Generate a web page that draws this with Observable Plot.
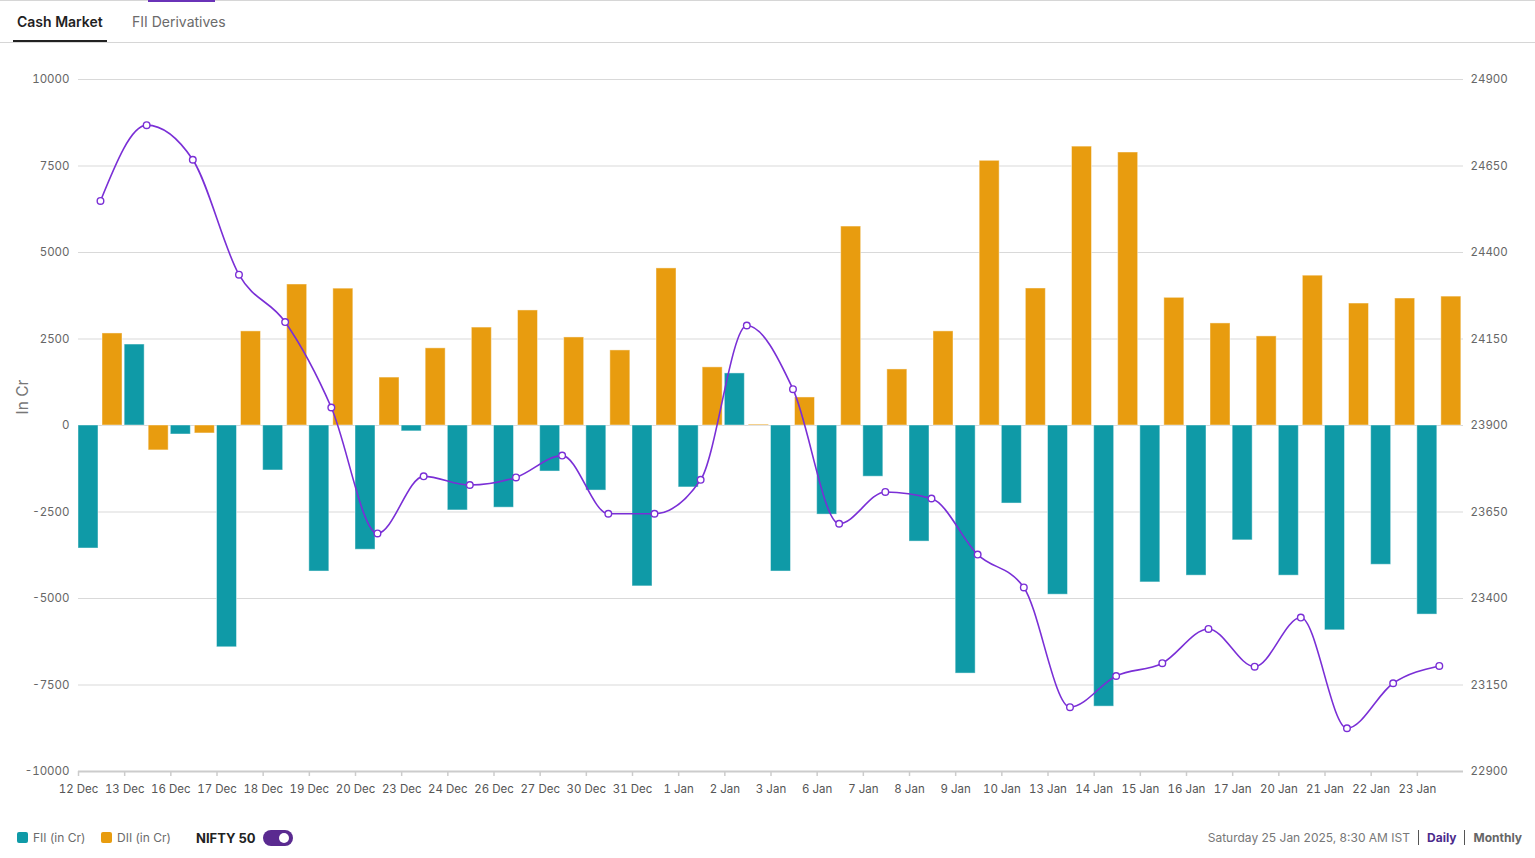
<!DOCTYPE html>
<html>
<head>
<meta charset="utf-8">
<script src="https://cdn.jsdelivr.net/npm/d3@7"></script>
<script src="https://cdn.jsdelivr.net/npm/@observablehq/plot@0.6"></script>
<style>
  html, body { margin: 0; padding: 0; background: #fff; font-family: Inter, "Noto Sans", sans-serif; }
  #page { position: relative; width: 1535px; height: 858px; overflow: hidden; }
  .topline { position: absolute; left: 0; top: 0; width: 1535px; height: 1px; background: #d6d6d6; }
  .topmark { position: absolute; left: 148px; top: 0; width: 67px; height: 2px; background: #6a32b8; }
  .tab { position: absolute; top: 13px; font-size: 14px; line-height: 18px; }
  .tab.active { left: 17px; color: #1f1f1f; font-weight: 600; }
  .tab.other { left: 132px; color: #6b6b6b; }
  .underline { position: absolute; left: 13px; top: 40px; width: 94px; height: 2px; background: #222; }
  .divider { position: absolute; left: 0; top: 42px; width: 1535px; height: 1px; background: #d6d6d6; }
  #chart { position: absolute; left: 0; top: 50px; }
  .legend { position: absolute; top: 829px; font-size: 12px; line-height: 18px; color: #6b6b6b; }
  .sw { display: inline-block; width: 11px; height: 11px; border-radius: 2px; vertical-align: -1px; margin-right: 5px; }
  .nifty { position: absolute; top: 829px; left: 196px; font-size: 13px; font-weight: 700; color: #222; line-height: 18px; }
  .toggle { position: absolute; top: 830px; left: 263px; width: 30px; height: 16px; border-radius: 8px; background: #5a2a90; }
  .knob { position: absolute; top: 3px; left: 16px; width: 10px; height: 10px; border-radius: 5px; background: #fff; }
  .footer { position: absolute; top: 829px; right: 13px; font-size: 12px; line-height: 18px; color: #777; white-space: nowrap; }
  .footer .sep { display: inline-block; width: 1px; height: 15px; background: #555; vertical-align: -3px; margin: 0 8px 0 8px; }
  .footer .daily { color: #4b2a8c; font-weight: 700; }
  .footer .monthly { color: #666; font-weight: 700; }
</style>
</head>
<body>
<div id="page">
  <div class="topline"></div>
  <div class="topmark"></div>
  <div class="tab active">Cash Market</div>
  <div class="tab other">FII Derivatives</div>
  <div class="underline"></div>
  <div class="divider"></div>
  <div id="chart"></div>
  <div class="legend" style="left:17px"><span class="sw" style="background:#0f9aa7"></span>FII (in Cr)</div>
  <div class="legend" style="left:101px"><span class="sw" style="background:#e89c0f"></span>DII (in Cr)</div>
  <div class="nifty">NIFTY 50</div>
  <div class="toggle"><div class="knob"></div></div>
  <div class="footer">Saturday 25 Jan 2025, 8:30 AM IST<span class="sep"></span><span class="daily">Daily</span><span class="sep"></span><span class="monthly">Monthly</span></div>
</div>
<script>
const dates = ["12 Dec","13 Dec","16 Dec","17 Dec","18 Dec","19 Dec","20 Dec","23 Dec","24 Dec","26 Dec","27 Dec","30 Dec","31 Dec","1 Jan","2 Jan","3 Jan","6 Jan","7 Jan","8 Jan","9 Jan","10 Jan","13 Jan","14 Jan","15 Jan","16 Jan","17 Jan","20 Jan","21 Jan","22 Jan","23 Jan"];
const fii = [-3555, 2340, -260, -6410, -1300, -4220, -3590, -170, -2455, -2375, -1330, -1880, -4650, -1790, 1505, -4220, -2575, -1480, -3355, -7170, -2255, -4890, -8125, -4535, -4340, -3320, -4340, -5920, -4025, -5465];
const dii = [2660, -720, -230, 2720, 4075, 3955, 1385, 2230, 2830, 3325, 2545, 2170, 4540, 1680, 25, 810, 5750, 1620, 2720, 7650, 3960, 8060, 7890, 3690, 2950, 2575, 4330, 3525, 3670, 3725];
const nifty = [24549, 24768, 24668, 24336, 24199, 23952, 23588, 23753, 23728, 23750, 23813, 23645, 23645, 23743, 24189, 24005, 23616, 23708, 23689, 23527, 23432, 23086, 23176, 23213, 23312, 23203, 23345, 23025, 23155, 23205];
const leftTicks = [-10000, -7500, -5000, -2500, 0, 2500, 5000, 7500, 10000];
const rightBase = 23900, rightFactor = 10;

const rows = dates.map((d, i) => ({i, date: d, fii: fii[i], dii: dii[i], nifty: nifty[i]}));
const teal = "#0f9aa7", orange = "#e89c0f", purple = "#7a2fd6";

const chart = Plot.plot({
  width: 1535,
  height: 760,
  marginTop: 29,
  marginBottom: 39,
  marginLeft: 78,
  marginRight: 72,
  style: {fontFamily: "Inter, 'Noto Sans', sans-serif", fontSize: "11.5px", background: "transparent"},
  x: {type: "linear", domain: [0, 30], axis: null},
  y: {domain: [-10000, 10000], axis: null},
  marks: [
    Plot.gridY(leftTicks, {stroke: "#d9d9d9", strokeOpacity: 1, strokeWidth: 1}),
    Plot.axisY(leftTicks, {anchor: "left", tickSize: 0, tickPadding: 9, label: null, fill: "#666", tickFormat: d => String(d)}),
    Plot.axisY(leftTicks, {anchor: "right", tickSize: 0, tickPadding: 7, label: null, fill: "#666", tickFormat: d => String(d / rightFactor + rightBase)}),
    Plot.rect(rows, {x1: d => d.i, x2: d => d.i + 0.433, y1: 0, y2: "fii", fill: teal, stroke: "#ffffff", strokeOpacity: 0.45, strokeWidth: 1}),
    Plot.rect(rows, {x1: d => d.i + 0.52, x2: d => d.i + 0.953, y1: 0, y2: "dii", fill: orange, stroke: "#ffffff", strokeOpacity: 0.45, strokeWidth: 1}),
    Plot.ruleY([-10000], {stroke: "#cccccc", strokeWidth: 2}),
    Plot.axisX(d3.range(30), {anchor: "bottom", tickSize: 5, tickPadding: 8, stroke: "#cccccc", strokeWidth: 1.5, fill: "#555", label: null, tickFormat: i => dates[i]}),
    Plot.line(rows, {x: d => d.i + 0.476, y: d => (d.nifty - rightBase) * rightFactor, curve: "monotone-x", stroke: purple, strokeWidth: 1.6}),
    Plot.dot(rows, {x: d => d.i + 0.476, y: d => (d.nifty - rightBase) * rightFactor, r: 3.3, fill: "white", stroke: purple, strokeWidth: 1.4})
  ]
});
document.getElementById("chart").appendChild(chart);

// rotated y-axis title
d3.select(chart).append("text")
  .attr("transform", "translate(28,347) rotate(-90)")
  .attr("text-anchor", "middle")
  .attr("fill", "#777")
  .style("font-size", "15.5px")
  .text("In Cr");
</script>
</body>
</html>
